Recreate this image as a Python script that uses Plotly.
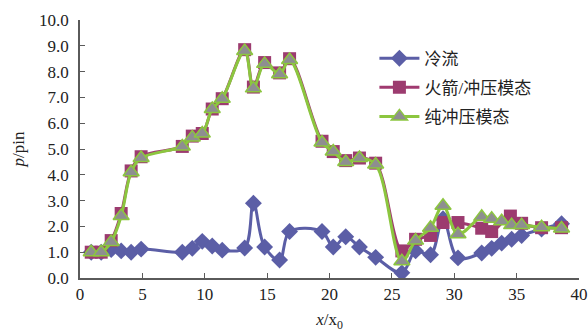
import plotly.graph_objects as go

# Axial positions (x/x0) and pressure ratios (p/pin) for the three test cases
x_cold = [0.9, 1.7, 2.5, 3.3, 4.1, 4.9, 8.2, 9.0, 9.8, 10.6, 11.4, 13.2, 13.9, 14.8,
          16.0, 16.8, 19.4, 20.3, 21.3, 22.4, 23.7, 25.8, 26.9, 28.1, 29.1, 30.3,
          32.2, 33.0, 33.8, 34.6, 35.4, 37.0, 38.6]
p_cold = [1.0, 1.0, 1.1, 1.05, 1.0, 1.12, 1.0, 1.15, 1.42, 1.24, 1.08, 1.16, 2.9, 1.2,
          0.7, 1.8, 1.8, 1.2, 1.6, 1.2, 0.8, 0.2, 1.05, 0.9, 2.3, 0.78,
          0.97, 1.15, 1.35, 1.5, 1.65, 1.9, 2.1]

x_rocket = [0.9, 1.7, 2.5, 3.3, 4.1, 4.9, 8.2, 9.0, 9.8, 10.6, 11.4, 13.2, 13.9, 14.8,
            16.0, 16.8, 19.4, 20.3, 21.3, 22.4, 23.7, 25.8, 26.9, 28.1, 29.1, 30.3,
            32.2, 33.0, 34.5, 35.4, 37.0, 38.6]
p_rocket = [1.0, 1.0, 1.45, 2.5, 4.15, 4.7, 5.1, 5.5, 5.6, 6.55, 6.95, 8.85, 7.4, 8.35,
            7.95, 8.5, 5.3, 4.9, 4.55, 4.65, 4.45, 1.05, 1.5, 1.65, 2.15, 2.15,
            1.93, 1.8, 2.4, 2.12, 1.95, 1.95]

x_ram = [0.9, 1.7, 2.5, 3.3, 4.1, 4.9, 8.2, 9.0, 9.8, 10.6, 11.4, 13.2, 13.9, 14.8,
         16.0, 16.8, 19.4, 20.3, 21.3, 22.4, 23.7, 25.8, 26.9, 28.1, 29.1, 30.3,
         32.2, 33.0, 33.8, 34.6, 35.4, 37.0, 38.6]
p_ram = [1.0, 1.0, 1.4, 2.4, 4.1, 4.65, 5.1, 5.45, 5.6, 6.55, 6.95, 8.8, 7.35, 8.3,
         7.9, 8.45, 5.25, 4.9, 4.5, 4.65, 4.4, 0.65, 1.45, 1.95, 2.8, 1.7,
         2.37, 2.3, 2.2, 2.05, 2.05, 1.97, 1.92]

names = ["冷流", "火箭/冲压模态", "纯冲压模态"]
x_ticks = [0, 5, 10, 15, 20, 25, 30, 35, 40]

serif = "'Liberation Serif', 'Times New Roman', serif"
legend_font = "'Liberation Serif', 'Noto Sans CJK SC', serif"
axis_color = "#5a5a5a"

fig = go.Figure()
fig.add_trace(go.Scatter(
    x=x_cold, y=p_cold, name=names[0], legendgroup="a",
    mode="lines+markers", line=dict(color="#5b5ea6", width=3, shape="spline", smoothing=1.0),
    marker=dict(symbol="diamond", size=13, color="#5b5ea6"),
))
fig.add_trace(go.Scatter(
    x=x_rocket, y=p_rocket, name=names[1], legendgroup="b",
    mode="lines+markers", line=dict(color="#a03a70", width=3, shape="spline", smoothing=1.0),
    marker=dict(symbol="square", size=13, color="#9c3b6f"),
))
fig.add_trace(go.Scatter(
    x=x_ram, y=p_ram, name=names[2], legendgroup="c",
    mode="lines+markers", line=dict(color="#8cc63f", width=3, shape="spline", smoothing=1.0),
    marker=dict(symbol="triangle-up", size=14, color="#8e8e90",
                line=dict(color="#8cc63f", width=1.5)),
))

fig.update_layout(
    width=588, height=332,
    margin=dict(l=80, r=9, t=20, b=54),
    paper_bgcolor="white", plot_bgcolor="white",
    font=dict(family=serif, size=16, color="#222222"),
    showlegend=True,
    legend=dict(
        x=0.59, y=0.92, xanchor="left", yanchor="top",
        bgcolor="rgba(0,0,0,0)", font=dict(size=17, family=legend_font),
        tracegroupgap=4, itemwidth=40,
    ),
    xaxis=dict(
        range=[0, 40], tickvals=x_ticks, ticks="inside", ticklen=5,
        tickcolor=axis_color, showline=True, linecolor=axis_color, linewidth=1.5,
        showgrid=False, zeroline=False, mirror=False, automargin=False,
        title=dict(text="<i>x</i>/x<sub>0</sub>", font=dict(size=17, family=serif), standoff=10),
        tickfont=dict(size=17, family=serif),
    ),
    yaxis=dict(
        range=[0, 10], dtick=1, tickformat=".1f", ticks="inside", ticklen=5,
        tickcolor=axis_color, showline=True, linecolor=axis_color, linewidth=1.5,
        showgrid=False, zeroline=False, ticklabelstandoff=6, automargin=False,
        title=dict(text="<i>p</i>/pin", font=dict(size=17, family=serif), standoff=10),
        tickfont=dict(size=17, family=serif),
    ),
)

fig.write_html("out.html")
